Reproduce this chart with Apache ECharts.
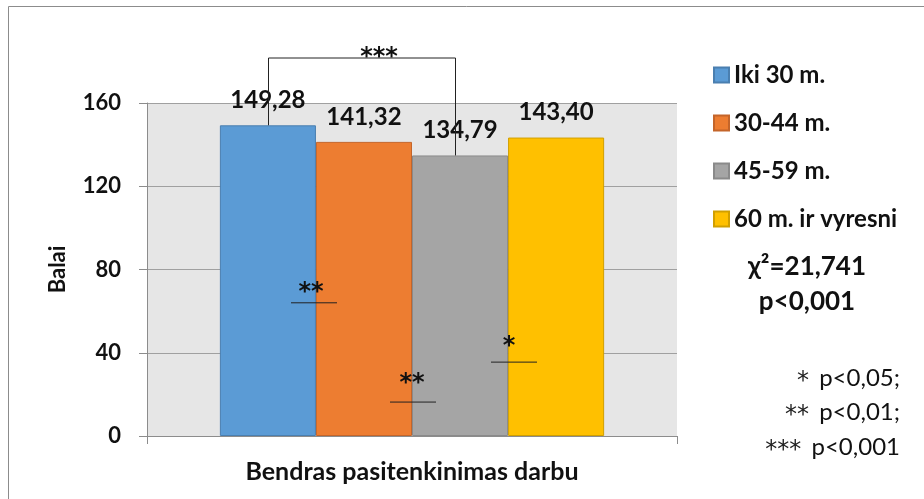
<!DOCTYPE html>
<html>
<head>
<meta charset="utf-8">
<script src="https://cdn.jsdelivr.net/npm/echarts@6/dist/echarts.min.js"></script>
<style>
  html, body { margin: 0; padding: 0; background: #fff; }
  #chart { width: 924px; height: 499px; }
</style>
</head>
<body>
<div id="chart"></div>
<script>
var categories = ['Bendras pasitenkinimas darbu'];
var groupNames = ['Iki 30 m.', '30-44 m.', '45-59 m.', '60 m. ir vyresni'];
var groupValues = [149.28, 141.32, 134.79, 143.40];
var groupColors = ['#5b9bd5', '#ed7d31', '#a5a5a5', '#ffc000'];
var groupBorders = ['#4a7fb0', '#c4652a', '#8a8a8a', '#d19f00'];
var yTicks = [0, 40, 80, 120, 160];
var statLines = ['\u03c7\u00b2=21,741', 'p<0,001'];
var noteStars = ['*', '**', '***'];
var noteTexts = [' p<0,05;', ' p<0,01;', ' p<0,001'];

var font = 'Lato, "Open Sans", sans-serif';
var chart = echarts.init(document.getElementById('chart'));

function fmt(v) {
    return v.toFixed(2).replace('.', ',');
}

var series = groupNames.map(function (name, i) {
    return {
        name: name,
        type: 'bar',
        data: [groupValues[i]],
        barGap: '0%',
        barCategoryGap: '27.5%',
        itemStyle: { color: groupColors[i], borderColor: groupBorders[i], borderWidth: 1 },
        label: {
            show: true,
            position: 'top',
            distance: 13,
            fontFamily: font,
            fontWeight: 'bold',
            fontSize: 24,
            color: '#111',
            formatter: function (p) { return fmt(p.value); }
        }
    };
});

var option = {
    animation: false,
    grid: {
        left: 147, right: 247, top: 103, bottom: 63,
        show: true, backgroundColor: '#e6e6e6', borderWidth: 0
    },
    legend: {
        orient: 'vertical',
        left: 708, top: 57,
        itemWidth: 15, itemHeight: 15,
        itemGap: 22,
        icon: 'rect',
        textStyle: { fontFamily: font, fontWeight: 'bold', fontSize: 24, color: '#111', lineHeight: 26 },
        data: groupNames
    },
    xAxis: {
        type: 'category',
        data: categories,
        axisLine: { lineStyle: { color: '#8c8c8c' } },
        axisTick: { show: true, length: 8, lineStyle: { color: '#8c8c8c' } },
        axisLabel: { fontFamily: font, fontWeight: 'bold', fontSize: 25, color: '#111', margin: 23 }
    },
    yAxis: {
        type: 'value',
        min: yTicks[0], max: yTicks[yTicks.length - 1], interval: 40,
        name: 'Balai',
        nameLocation: 'middle',
        nameGap: 78,
        nameTextStyle: { fontFamily: font, fontWeight: 'bold', fontSize: 22, color: '#111' },
        axisLine: { show: true, lineStyle: { color: '#8c8c8c' } },
        axisTick: { show: true, length: 8, lineStyle: { color: '#8c8c8c' } },
        axisLabel: { fontFamily: font, fontWeight: 'bold', fontSize: 22, color: '#111', margin: 26 },
        splitLine: { lineStyle: { color: '#a0a0a0' } }
    },
    series: series
};

chart.setOption(option);

// significance marks, placed on the value scale
function py(v) { return chart.convertToPixel({ yAxisIndex: 0 }, v); }
var lineStyle = { stroke: '#222', lineWidth: 1 };
function star(text, x, y) {
    return { type: 'text', x: x, y: y + 6, z: 100,
        style: { text: text, fontFamily: '"DejaVu Sans", sans-serif', fontWeight: 'bold', fontSize: 24,
            fill: '#111', align: 'center', verticalAlign: 'middle' } };
}

var braceY = 58;
var graphics = [
    { type: 'rect', shape: { x: 8.5, y: 6.5, width: 1000, height: 1000 }, style: { fill: 'none', stroke: '#8c8c8c', lineWidth: 1 }, silent: true },
    { type: 'polyline', z: 100, shape: { points: [[268.5, py(groupValues[0])], [268.5, braceY], [455.5, braceY], [455.5, py(groupValues[2])]] }, style: lineStyle },
    star('***', 379, 52),
    { type: 'line', z: 100, shape: { x1: 291, y1: py(64), x2: 337, y2: py(64) }, style: lineStyle },
    star('**', 311, 287),
    { type: 'line', z: 100, shape: { x1: 390, y1: py(16.3), x2: 436, y2: py(16.3) }, style: lineStyle },
    star('**', 412, 378),
    { type: 'line', z: 100, shape: { x1: 491, y1: py(35.5), x2: 537, y2: py(35.5) }, style: lineStyle },
    star('*', 509, 341)
];

statLines.forEach(function (t, i) {
    graphics.push({ type: 'text', x: 807, y: 267 + i * 35,
        style: { text: t, fontFamily: font, fontWeight: 'bold', fontSize: 26, fill: '#111', align: 'center', verticalAlign: 'middle' } });
});
noteTexts.forEach(function (t, i) {
    graphics.push({ type: 'text', x: 900, y: 378 + i * 34.5,
        style: {
            text: '{s|' + noteStars[i] + '}' + t,
            fontFamily: font, fontSize: 24, fill: '#111', align: 'right', verticalAlign: 'middle',
            rich: { s: { fontFamily: '"DejaVu Sans", sans-serif', fontSize: 24, fill: '#222', padding: [7, 4, 0, 0] } }
        } });
});

chart.setOption({ graphic: graphics });

window.addEventListener('resize', function () { chart.resize(); });
</script>
</body>
</html>
